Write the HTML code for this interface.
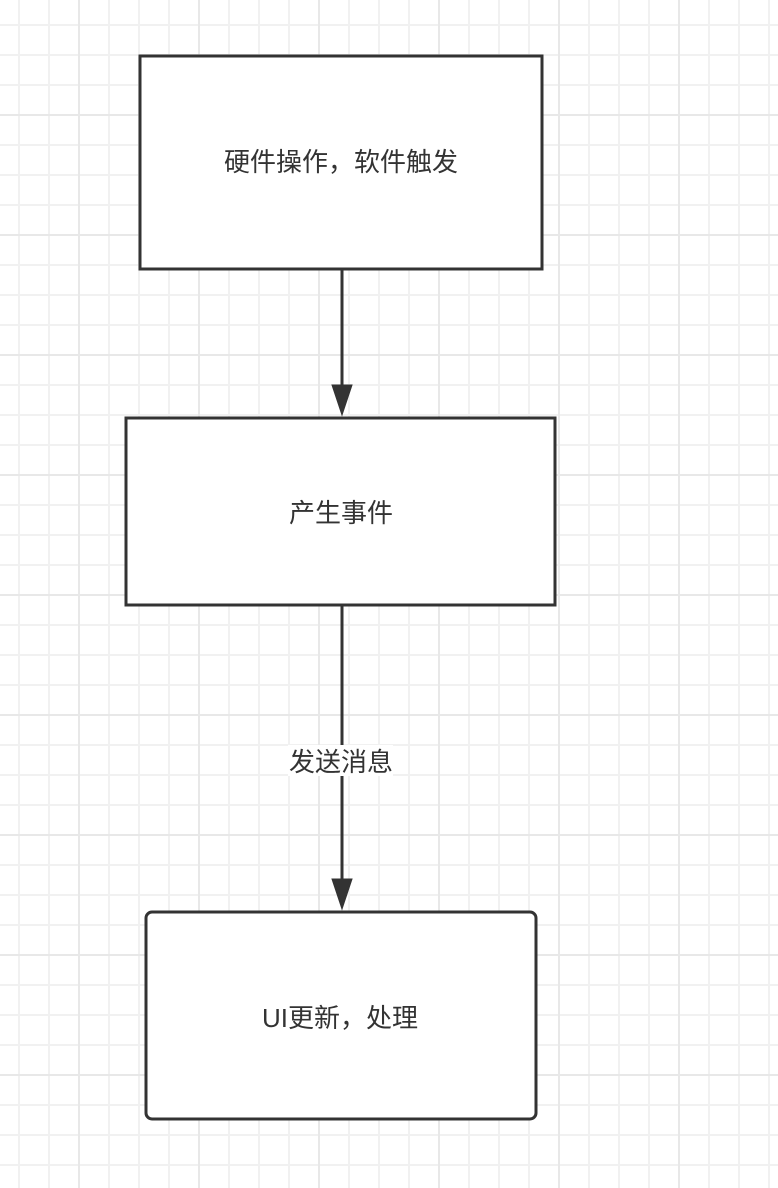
<!DOCTYPE html>
<html>
<head>
<meta charset="utf-8">
<style>
  html, body { margin:0; padding:0; background:#fff; }
  body { width:778px; height:1188px; overflow:hidden; }
  svg { display:block; }
  text { font-family: "Liberation Sans", "Noto Sans CJK SC", sans-serif; fill:#333; }
</style>
</head>
<body>
<svg width="778" height="1188" viewBox="0 0 778 1188" xmlns="http://www.w3.org/2000/svg">
  <defs>
    <pattern id="minor" x="18" y="24" width="30" height="30" patternUnits="userSpaceOnUse">
      <path d="M0 1 H30 M1 0 V30" stroke="#f1f1f1" stroke-width="2" fill="none"/>
    </pattern>
    <pattern id="major" x="78" y="114" width="120" height="120" patternUnits="userSpaceOnUse">
      <path d="M0 1 H120 M1 0 V120" stroke="#e8e8e8" stroke-width="2" fill="none"/>
    </pattern>
  </defs>
  <rect width="778" height="1188" fill="#fff"/>
  <rect width="778" height="1188" fill="url(#minor)"/>
  <rect width="778" height="1188" fill="url(#major)"/>

  <!-- Box 1 -->
  <rect x="140" y="56" width="402" height="213" fill="#fff" stroke="#333" stroke-width="3"/>
  <text x="341" y="171" font-size="26" text-anchor="middle">硬件操作，软件触发</text>

  <!-- Arrow 1 -->
  <line x1="342" y1="270" x2="342" y2="388" stroke="#333" stroke-width="3"/>
  <path d="M332 385 L352 385 L342 415 Z" fill="#333" stroke="#333" stroke-width="1"/>

  <!-- Box 2 -->
  <rect x="126" y="418" width="429" height="187" fill="#fff" stroke="#333" stroke-width="3"/>
  <text x="341" y="522" font-size="26" text-anchor="middle">产生事件</text>

  <!-- Arrow 2 -->
  <line x1="342" y1="606" x2="342" y2="882" stroke="#333" stroke-width="3"/>
  <path d="M332 879 L352 879 L342 909 Z" fill="#333" stroke="#333" stroke-width="1"/>
  <rect x="288" y="745" width="105" height="31" fill="#fff"/>
  <text x="341" y="771" font-size="26" text-anchor="middle">发送消息</text>

  <!-- Box 3 -->
  <rect x="146" y="912" width="390" height="207" rx="6" ry="6" fill="#fff" stroke="#333" stroke-width="3"/>
  <text x="340" y="1027" font-size="26" text-anchor="middle">UI更新，处理</text>
</svg>
</body>
</html>
